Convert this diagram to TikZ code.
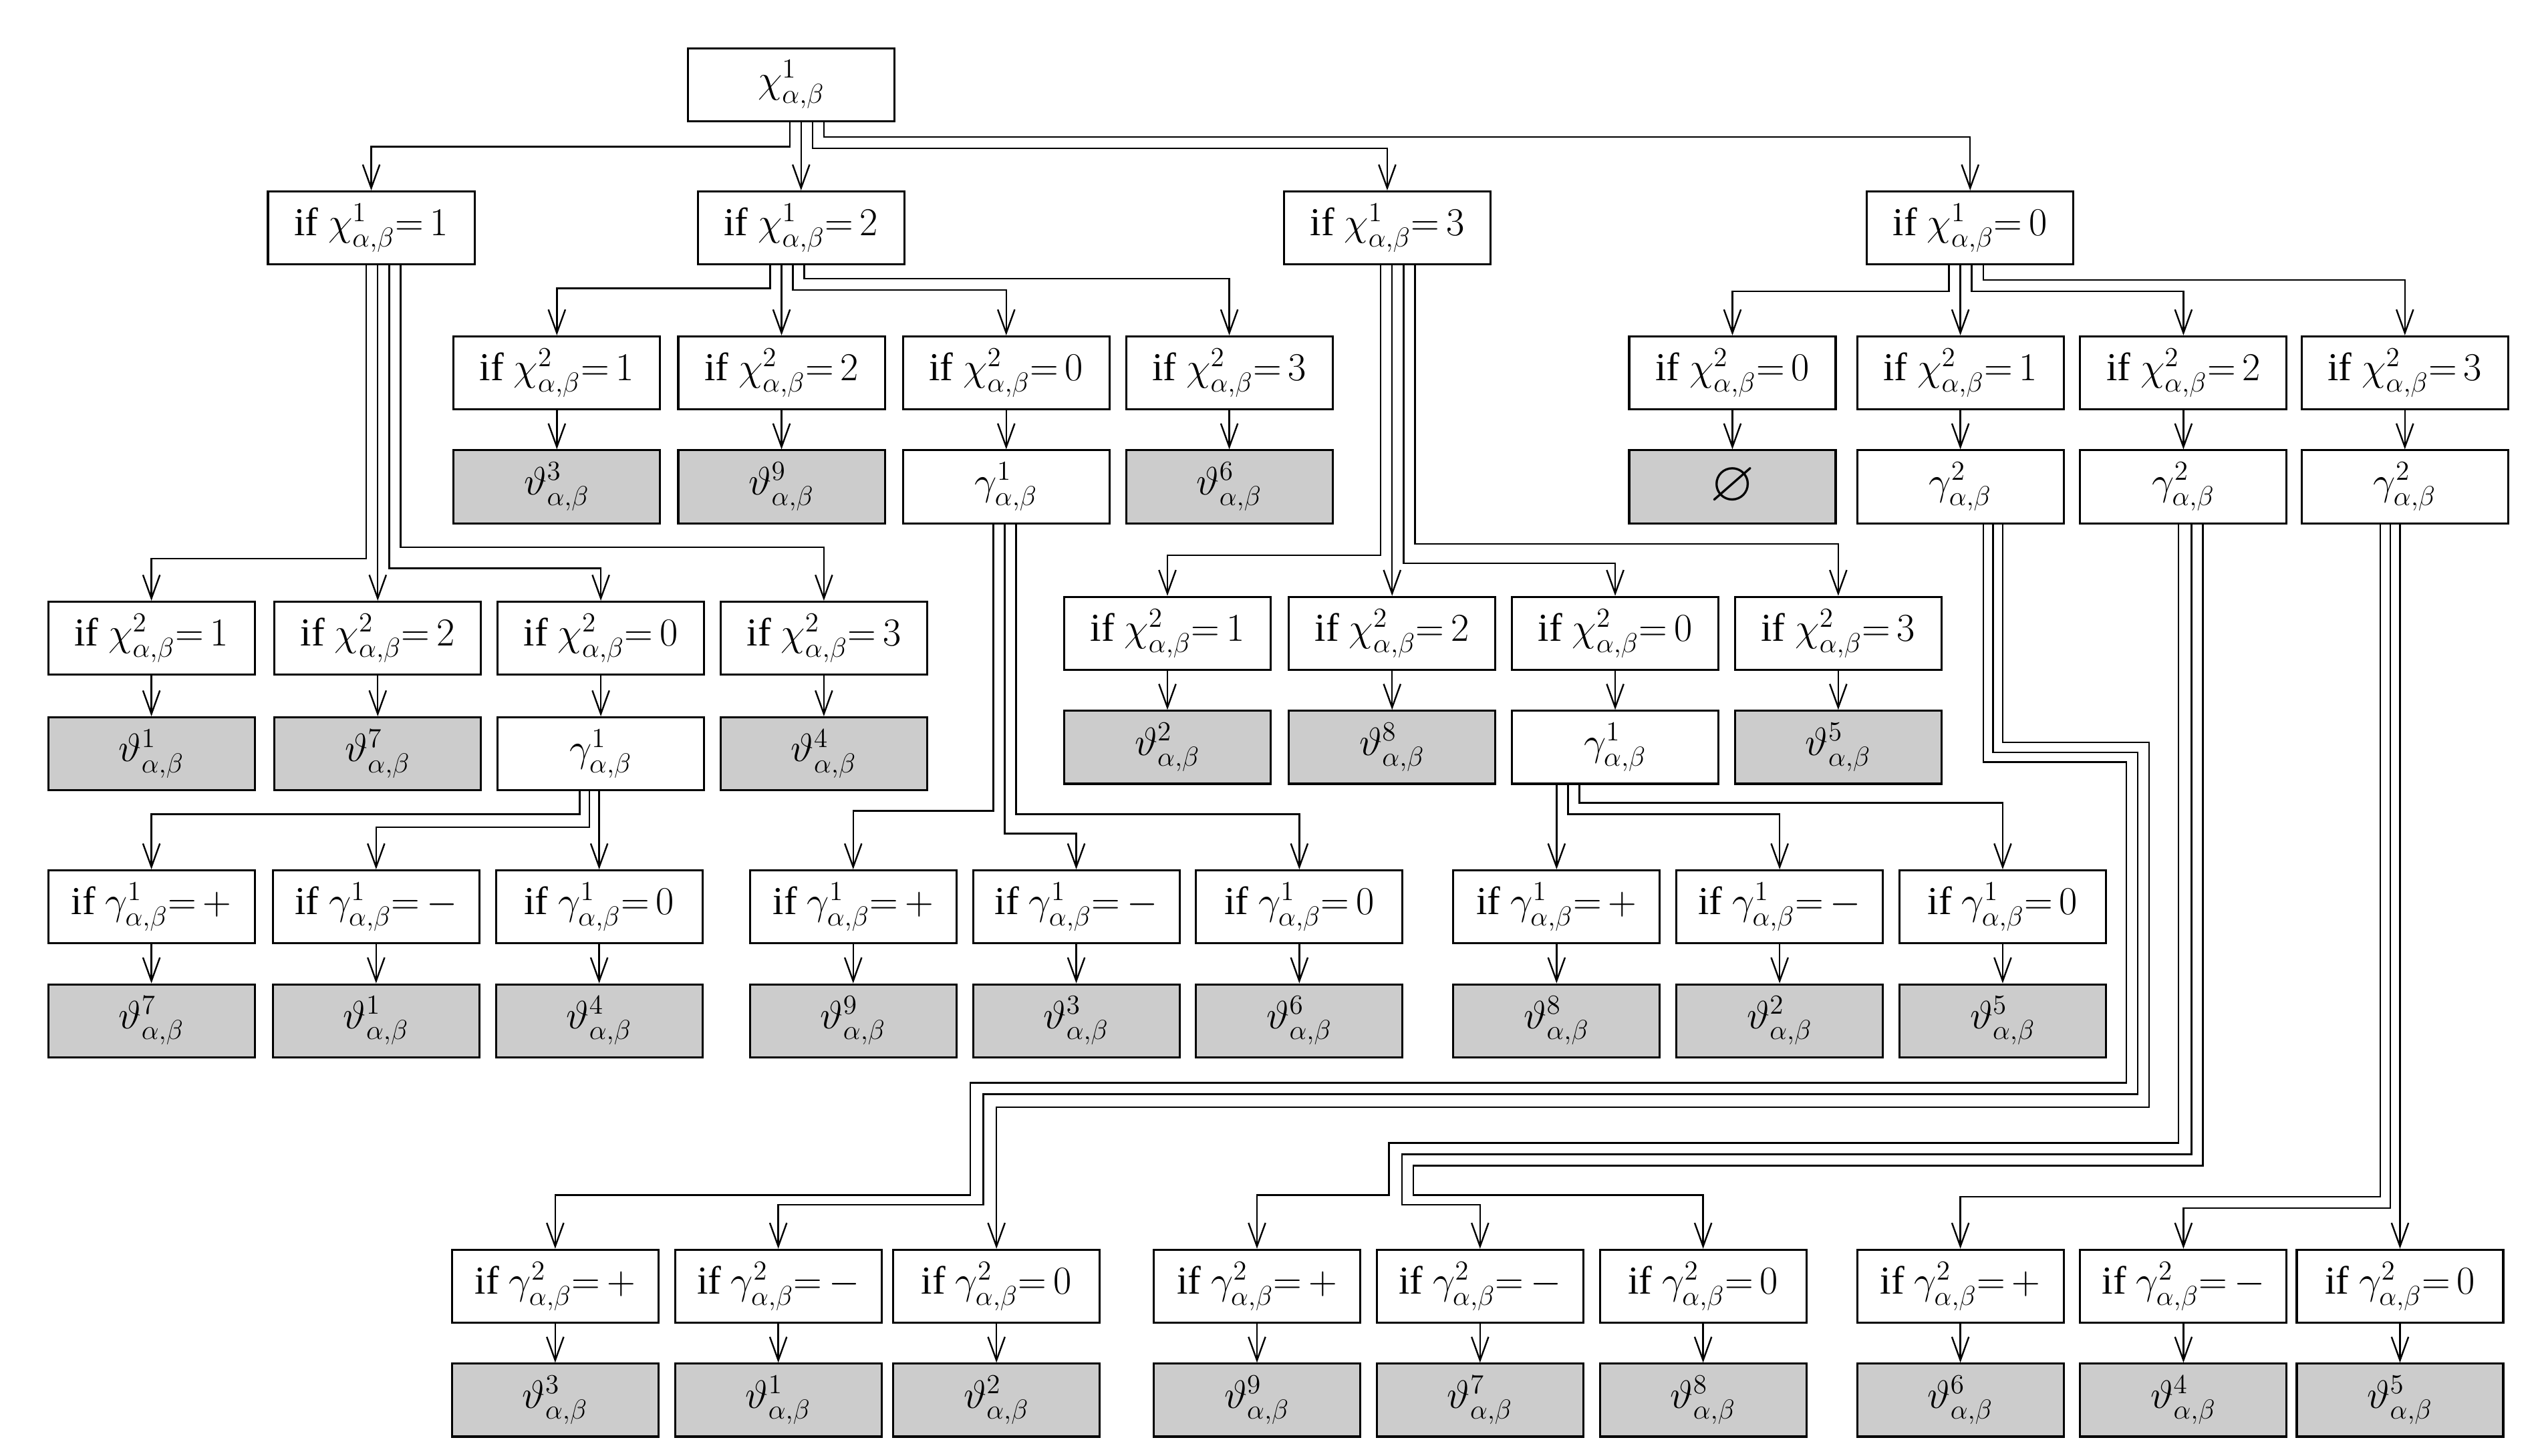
\documentclass[tikz,border=0pt]{standalone}
\usepackage{amsmath}
\usepackage{amssymb}
\usepackage{fontspec}
\setmainfont{Liberation Serif}
\usetikzlibrary{arrows.meta,calc}

\newcommand{\condx}[2]{if $\chi^{#1}_{\alpha,\beta}{=}\,#2$}
\newcommand{\condg}[2]{if $\gamma^{#1}_{\alpha,\beta}{=}\,#2$}
\newcommand{\thv}[1]{$\vartheta^{#1}_{\alpha,\beta}$}
\newcommand{\gmv}[1]{$\gamma^{#1}_{\alpha,\beta}$}

\begin{document}
\begin{tikzpicture}[x=0.025cm,y=-0.025cm,
    box/.style={draw,line width=0.9pt,minimum width=3.17cm,minimum height=1.12cm,inner sep=0pt,font=\LARGE},
    res/.style={box,fill=gray!40},
    arr/.style={line width=0.7pt,-{Straight Barb[length=3.6mm,width=2.6mm]}}]
        \useasboundingbox (0,0) rectangle (1560,894);

        % root and first level
        \node[box] (top) at (486,52) {$\chi^{1}_{\alpha,\beta}$};
        \node[box] (c1) at (228,140) {\condx{1}{1}};
        \node[box] (c2) at (492,140) {\condx{1}{2}};
        \node[box] (c3) at (852,140) {\condx{1}{3}};
        \node[box] (c0) at (1210,140) {\condx{1}{0}};

        % under c1
        \node[box] (a1) at (93,392)  {\condx{2}{1}};
        \node[box] (a2) at (232,392) {\condx{2}{2}};
        \node[box] (a0) at (369,392) {\condx{2}{0}};
        \node[box] (a3) at (506,392) {\condx{2}{3}};
        \node[res] (va1) at (93,463)  {\thv{1}};
        \node[res] (va2) at (232,463) {\thv{7}};
        \node[box] (va0) at (369,463) {\gmv{1}};
        \node[res] (va3) at (506,463) {\thv{4}};
        \node[box] (ap) at (93,557)  {\condg{1}{+}};
        \node[box] (am) at (231,557) {\condg{1}{-}};
        \node[box] (az) at (368,557) {\condg{1}{0}};
        \node[res] (vap) at (93,627)  {\thv{7}};
        \node[res] (vam) at (231,627) {\thv{1}};
        \node[res] (vaz) at (368,627) {\thv{4}};

        % under c2
        \node[box] (b1) at (342,229) {\condx{2}{1}};
        \node[box] (b2) at (480,229) {\condx{2}{2}};
        \node[box] (b0) at (618,229) {\condx{2}{0}};
        \node[box] (b3) at (755,229) {\condx{2}{3}};
        \node[res] (vb1) at (342,299) {\thv{3}};
        \node[res] (vb2) at (480,299) {\thv{9}};
        \node[box] (vb0) at (618,299) {\gmv{1}};
        \node[res] (vb3) at (755,299) {\thv{6}};
        \node[box] (bp) at (524,557) {\condg{1}{+}};
        \node[box] (bm) at (661,557) {\condg{1}{-}};
        \node[box] (bz) at (798,557) {\condg{1}{0}};
        \node[res] (vbp) at (524,627) {\thv{9}};
        \node[res] (vbm) at (661,627) {\thv{3}};
        \node[res] (vbz) at (798,627) {\thv{6}};

        % under c3
        \node[box] (d1) at (717,389)  {\condx{2}{1}};
        \node[box] (d2) at (855,389)  {\condx{2}{2}};
        \node[box] (d0) at (992,389)  {\condx{2}{0}};
        \node[box] (d3) at (1129,389) {\condx{2}{3}};
        \node[res] (vd1) at (717,459)  {\thv{2}};
        \node[res] (vd2) at (855,459)  {\thv{8}};
        \node[box] (vd0) at (992,459)  {\gmv{1}};
        \node[res] (vd3) at (1129,459) {\thv{5}};
        \node[box] (dp) at (956,557)  {\condg{1}{+}};
        \node[box] (dm) at (1093,557) {\condg{1}{-}};
        \node[box] (dz) at (1230,557) {\condg{1}{0}};
        \node[res] (vdp) at (956,627)  {\thv{8}};
        \node[res] (vdm) at (1093,627) {\thv{2}};
        \node[res] (vdz) at (1230,627) {\thv{5}};

        % under c0
        \node[box] (e0) at (1064,229) {\condx{2}{0}};
        \node[box] (e1) at (1204,229) {\condx{2}{1}};
        \node[box] (e2) at (1341,229) {\condx{2}{2}};
        \node[box] (e3) at (1477,229) {\condx{2}{3}};
        \node[res] (ve0) at (1064,299) {\Huge$\boldsymbol{\varnothing}$};
        \node[box] (ve1) at (1204,299) {\gmv{2}};
        \node[box] (ve2) at (1341,299) {\gmv{2}};
        \node[box] (ve3) at (1477,299) {\gmv{2}};

        % gamma^2 rows
        \node[box] (fp) at (341,790)  {\condg{2}{+}};
        \node[box] (fm) at (478,790)  {\condg{2}{-}};
        \node[box] (fz) at (612,790)  {\condg{2}{0}};
        \node[box] (gp) at (772,790)  {\condg{2}{+}};
        \node[box] (gm) at (909,790)  {\condg{2}{-}};
        \node[box] (gz) at (1046,790) {\condg{2}{0}};
        \node[box] (hp) at (1204,790) {\condg{2}{+}};
        \node[box] (hm) at (1341,790) {\condg{2}{-}};
        \node[box] (hz) at (1474,790) {\condg{2}{0}};
        \node[res] (vfp) at (341,860)  {\thv{3}};
        \node[res] (vfm) at (478,860)  {\thv{1}};
        \node[res] (vfz) at (612,860)  {\thv{2}};
        \node[res] (vgp) at (772,860)  {\thv{9}};
        \node[res] (vgm) at (909,860)  {\thv{7}};
        \node[res] (vgz) at (1046,860) {\thv{8}};
        \node[res] (vhp) at (1204,860) {\thv{6}};
        \node[res] (vhm) at (1341,860) {\thv{4}};
        \node[res] (vhz) at (1474,860) {\thv{5}};

        % short arrows
        \foreach \n in {a1,a2,a0,a3,ap,am,az,b1,b2,b0,b3,bp,bm,bz,d1,d2,d0,d3,dp,dm,dz,e0,e1,e2,e3,fp,fm,fz,gp,gm,gz,hp,hm,hz}
            \draw[arr] (\n) -- (v\n);

        % from the root
        \draw[arr] ($(top.south)+(-1,0)$) -- ++(0,15) -| (c1.north);
        \draw[arr] ($(top.south)+(6,0)$) -- (c2.north);
        \draw[arr] ($(top.south)+(13,0)$) -- ++(0,16) -| (c3.north);
        \draw[arr] ($(top.south)+(20,0)$) -- ++(0,9) -| (c0.north);

        % from the first level
        \draw[arr] ($(c1.south)+(-3,0)$) -- ++(0,180) -| (a1.north);
        \draw[arr] ($(c1.south)+(4,0)$) -- (a2.north);
        \draw[arr] ($(c1.south)+(11,0)$) -- ++(0,186) -| (a0.north);
        \draw[arr] ($(c1.south)+(18,0)$) -- ++(0,173) -| (a3.north);

        \draw[arr] ($(c2.south)+(-19,0)$) -- ++(0,14) -| (b1.north);
        \draw[arr] ($(c2.south)+(-12,0)$) -- (b2.north);
        \draw[arr] ($(c2.south)+(-5,0)$) -- ++(0,15) -| (b0.north);
        \draw[arr] ($(c2.south)+(2,0)$) -- ++(0,8) -| (b3.north);

        \draw[arr] ($(c3.south)+(-4,0)$) -- ++(0,178) -| (d1.north);
        \draw[arr] ($(c3.south)+(3,0)$) -- (d2.north);
        \draw[arr] ($(c3.south)+(10,0)$) -- ++(0,183) -| (d0.north);
        \draw[arr] ($(c3.south)+(17,0)$) -- ++(0,171) -| (d3.north);

        \draw[arr] ($(c0.south)+(-13,0)$) -- ++(0,16) -| (e0.north);
        \draw[arr] ($(c0.south)+(-6,0)$) -- (e1.north);
        \draw[arr] ($(c0.south)+(1,0)$) -- ++(0,16) -| (e2.north);
        \draw[arr] ($(c0.south)+(8,0)$) -- ++(0,9) -| (e3.north);

        % from the gamma^1 boxes
        \draw[arr] ($(va0.south)+(-13,0)$) -- ++(0,14) -| (ap.north);
        \draw[arr] ($(va0.south)+(-7,0)$) -- ++(0,22) -| (am.north);
        \draw[arr] ($(va0.south)+(-1,0)$) -- (az.north);

        \draw[arr] ($(vb0.south)+(-8,0)$) -- ++(0,176) -| (bp.north);
        \draw[arr] ($(vb0.south)+(-1,0)$) -- ++(0,190) -| (bm.north);
        \draw[arr] ($(vb0.south)+(6,0)$) -- ++(0,178) -| (bz.north);

        \draw[arr] ($(vd0.south)+(-36,0)$) -- (dp.north);
        \draw[arr] ($(vd0.south)+(-29,0)$) -- ++(0,18) -| (dm.north);
        \draw[arr] ($(vd0.south)+(-22,0)$) -- ++(0,11) -| (dz.north);

        % from the gamma^2 boxes
        \draw[arr] ($(ve1.south)+(14,0)$) -- ++(0,146) -| (1306,665) -| (596,734) -| (fp.north);
        \draw[arr] ($(ve1.south)+(20,0)$) -- ++(0,140) -| (1313,672) -| (604,740) -| (fm.north);
        \draw[arr] ($(ve1.south)+(26,0)$) -- ++(0,134) -| (1320,680) -| (fz.north);

        \draw[arr] ($(ve2.south)+(-3,0)$) -- ++(0,380) -| (853,734) -| (gp.north);
        \draw[arr] ($(ve2.south)+(5,0)$) -- ++(0,387) -| (861,740) -| (gm.north);
        \draw[arr] ($(ve2.south)+(12,0)$) -- ++(0,394) -| (868,734) -| (gz.north);

        \draw[arr] ($(ve3.south)+(-15,0)$) -- ++(0,413) -| (hp.north);
        \draw[arr] ($(ve3.south)+(-9,0)$) -- ++(0,420) -| (hm.north);
        \draw[arr] ($(ve3.south)+(-3,0)$) -- (hz.north);
    \end{tikzpicture}
\end{document}
